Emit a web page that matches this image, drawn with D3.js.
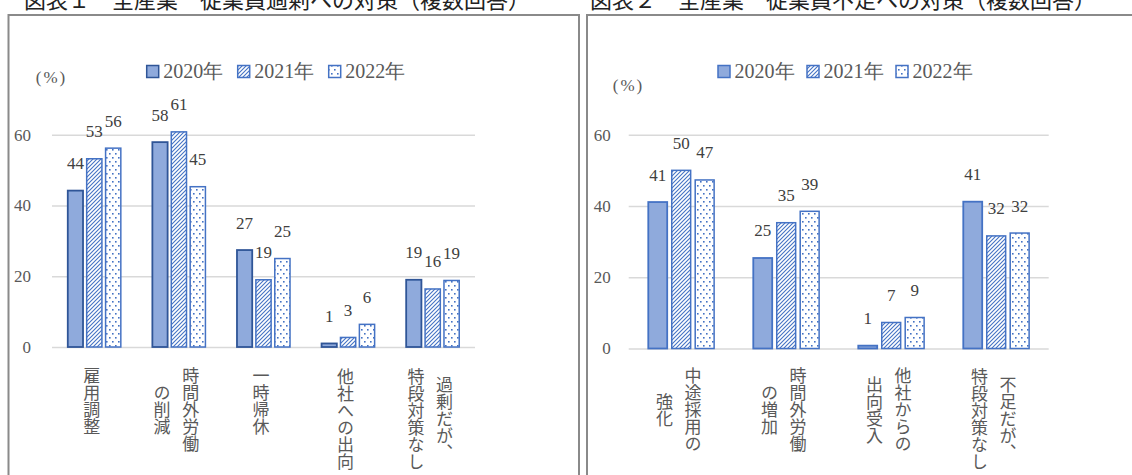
<!DOCTYPE html>
<html>
<head>
<meta charset="utf-8">
<script src="https://cdn.jsdelivr.net/npm/d3@7"></script>
<style>
html,body{margin:0;padding:0;background:#fff;}
svg{display:block;}
</style>
</head>
<body>
<svg id="chart" width="1132" height="475"></svg>
<script>
// ---- data ----
const seriesNames = ["2020年", "2021年", "2022年"];
const yTicks = [0, 20, 40, 60];

const leftCategories = ["雇用調整", "時間外労働\nの削減", "一時帰休", "他社への出向", "過剰だが、\n特段対策なし"];
const left2020 = [44.2, 57.9, 27.4, 1.0, 19.0];
const left2021 = [53.2, 60.8, 19.0, 2.7, 16.4];
const left2022 = [56.2, 45.3, 25.0, 6.4, 18.8];

const rightCategories = ["中途採用の\n強化", "時間外労働\nの増加", "他社からの\n出向受入", "不足だが、\n特段対策なし"];
const right2020 = [41.1, 25.4, 0.8, 41.2];
const right2021 = [50.0, 35.3, 7.3, 31.6];
const right2022 = [47.3, 38.5, 8.7, 32.4];

const leftTitle = "図表１　全産業　従業員過剰への対策（複数回答）";
const rightTitle = "図表２　全産業　従業員不足への対策（複数回答）";

// ---- layout ----
const svg = d3.select("#chart");
const NUM_FONT = "'Liberation Serif','Times New Roman','DejaVu Serif',serif";
const JP_FONT = "'Noto Sans CJK JP',sans-serif";
const TXT = "#595959";

const defs = svg.append("defs");
const hatch = defs.append("pattern").attr("id", "hatch").attr("patternUnits", "userSpaceOnUse")
  .attr("width", 4).attr("height", 4);
hatch.append("rect").attr("width", 4).attr("height", 4).attr("fill", "#fff");
hatch.append("path").attr("d", "M-1,1 l2,-2 M0,4 l4,-4 M3,5 l2,-2")
  .attr("stroke", "#4472c4").attr("stroke-width", 1.1);
const dots = defs.append("pattern").attr("id", "dots").attr("patternUnits", "userSpaceOnUse")
  .attr("width", 6).attr("height", 8);
dots.append("rect").attr("width", 6).attr("height", 8).attr("fill", "#fff");
dots.append("rect").attr("x", 1).attr("y", 1).attr("width", 1.6).attr("height", 1.6).attr("fill", "#4472c4");
dots.append("rect").attr("x", 4).attr("y", 5).attr("width", 1.6).attr("height", 1.6).attr("fill", "#4472c4");

const panels = [
  { cats: leftCategories, vals: [left2020, left2021, left2022], title: leftTitle, titleX: 24,
    frame: [8.5, 15, 570.5, 520], px0: 52, px1: 475, yZero: 347, yTop60: 134.7, tickPad: 21,
    legendX: 146.7, legendStep: 91, pctX: 51.5, pctY: 77, stroke2020: "#2f5597" },
  { cats: rightCategories, vals: [right2020, right2021, right2022], title: rightTitle, titleX: 590,
    frame: [587, 15, 600, 520], px0: 628.7, px1: 1048.7, yZero: 348.5, yTop60: 134.7, tickPad: 18,
    legendX: 718, legendStep: 89, pctX: 628.5, pctY: 85, stroke2020: "#4472c4" }
];

const fills = ["#8faadc", "url(#hatch)", "url(#dots)"];

panels.forEach(p => {
  // title (cut at top of picture, as in the reference)
  svg.append("text").attr("x", p.titleX).attr("y", 8)
    .attr("font-family", JP_FONT).attr("font-size", 22).attr("fill", "#222")
    .text(p.title);

  // frame
  svg.append("rect").attr("x", p.frame[0]).attr("y", p.frame[1])
    .attr("width", p.frame[2]).attr("height", p.frame[3])
    .attr("fill", "none").attr("stroke", "#8a8a8a").attr("stroke-width", 2);

  const y = d3.scaleLinear().domain([0, 60]).range([p.yZero, p.yTop60]);
  const x0 = d3.scaleBand().domain(d3.range(p.cats.length)).range([p.px0, p.px1]);
  const bw = x0.bandwidth();
  const w = bw / 5.55;
  const groupW = 3.48 * w;
  const x1 = d3.scaleBand().domain(seriesNames).range([0, groupW]).paddingInner(0.1935).paddingOuter(0);

  // grid + y axis
  const axis = d3.axisLeft(y).tickValues(yTicks).tickSize(-(p.px1 - p.px0)).tickPadding(p.tickPad);
  const g = svg.append("g").attr("transform", `translate(${p.px0},0)`).call(axis);
  g.attr("font-family", null).attr("font-size", null);
  g.select(".domain").remove();
  g.selectAll(".tick line").attr("stroke", "#d9d9d9").attr("stroke-width", 1.5);
  g.selectAll(".tick text").attr("fill", TXT).style("font-family", NUM_FONT).style("font-size", "17px");

  // bars
  seriesNames.forEach((s, si) => {
    const data = p.vals[si];
    const gx = (i) => x0(i) + (bw - groupW) / 2 + x1(s);
    svg.append("g").selectAll("rect").data(data).join("rect")
      .attr("x", (d, i) => gx(i))
      .attr("y", d => y(d))
      .attr("width", x1.bandwidth())
      .attr("height", d => y(0) - y(d))
      .attr("fill", fills[si])
      .attr("stroke", si === 0 ? p.stroke2020 : "#4472c4")
      .attr("stroke-width", si === 0 ? 1.8 : 1.5);
    svg.append("g").selectAll("text").data(data).join("text")
      .attr("x", (d, i) => gx(i) + x1.bandwidth() / 2)
      .attr("y", d => y(d) - 21.5)
      .attr("text-anchor", "middle")
      .style("font-family", NUM_FONT).style("font-size", "17px").attr("fill", "#404040")
      .text(d => d3.format(".0f")(d));
  });

  // category labels (vertical)
  const colGap = 28.6, pitch = 17.2, blockTop = 367;
  p.cats.forEach((c, i) => {
    const lines = c.split("\n");
    const maxLen = d3.max(lines, l => l.length);
    const cx = x0(i) + bw / 2 - 2.5;
    const cy = blockTop + maxLen * pitch / 2;
    lines.forEach((l, li) => {
      svg.append("text")
        .attr("x", cx + (lines.length - 1) / 2 * colGap - li * colGap)
        .attr("y", cy)
        .attr("text-anchor", "middle")
        .style("writing-mode", "vertical-rl")
        .style("font-family", JP_FONT).style("font-size", "17px").attr("fill", TXT)
        .text(l);
    });
  });

  // unit
  svg.append("text").attr("x", p.pctX).attr("y", p.pctY).attr("dy", "0.35em")
    .attr("text-anchor", "middle").style("font-family", NUM_FONT).style("font-size", "17px")
    .attr("letter-spacing", 2).attr("fill", TXT).text("(%)");

  // legend
  seriesNames.forEach((s, si) => {
    const lx = p.legendX + si * p.legendStep;
    svg.append("rect").attr("x", lx).attr("y", 65.5).attr("width", 12).attr("height", 12)
      .attr("fill", fills[si])
      .attr("stroke", si === 0 ? p.stroke2020 : "#4472c4").attr("stroke-width", 1.5);
    svg.append("text").attr("x", lx + 16.5).attr("y", 78)
      .style("font-family", NUM_FONT).style("font-size", "20px").attr("fill", TXT).text(s);
  });
});
</script>
</body>
</html>
